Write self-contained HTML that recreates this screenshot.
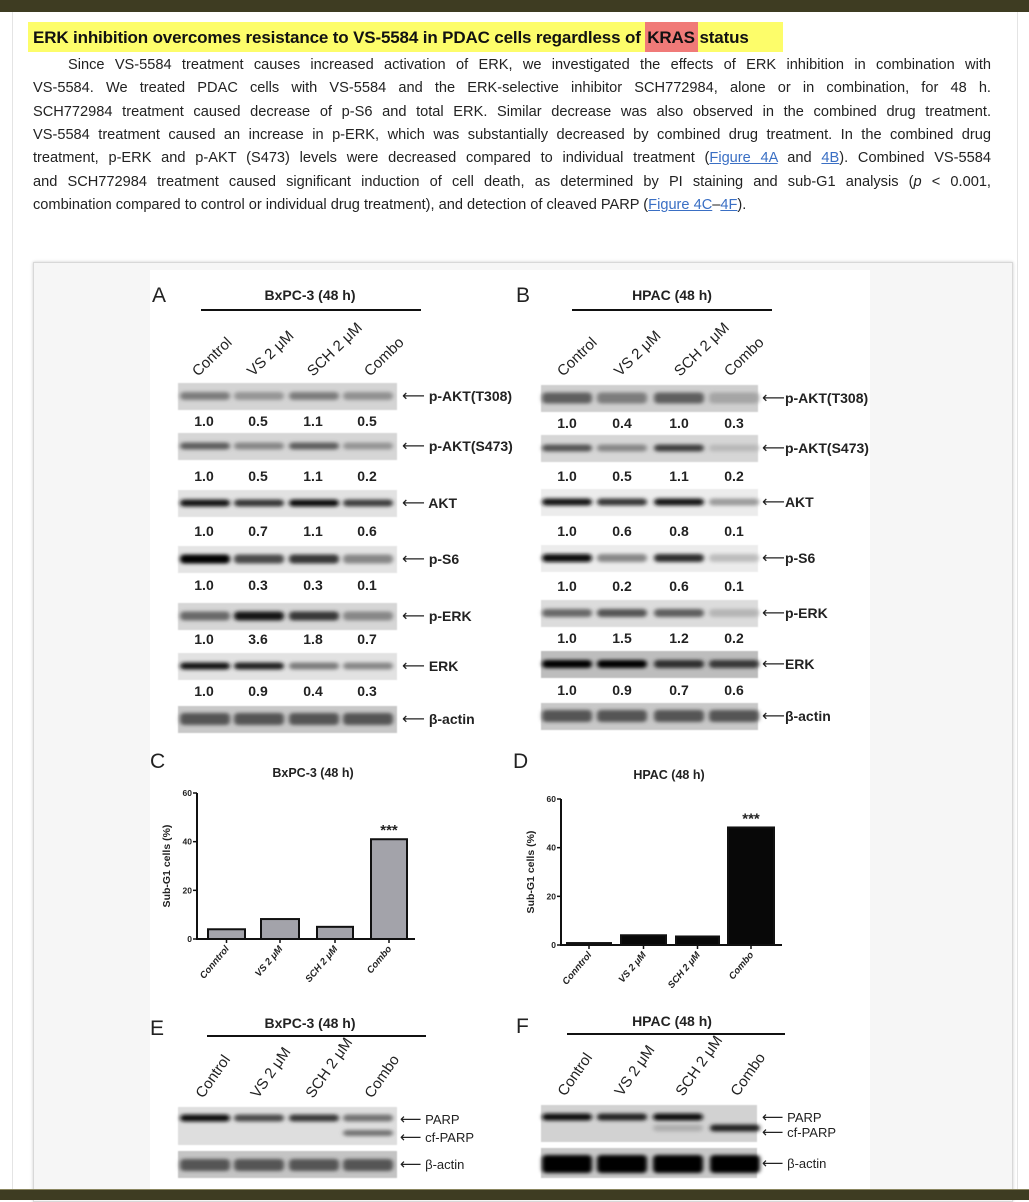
<!DOCTYPE html>
<html><head><meta charset="utf-8">
<style>
*{margin:0;padding:0;box-sizing:border-box}
body{width:1029px;height:1200px;background:#fff;position:relative;overflow:hidden;font-family:"Liberation Sans",Arial,sans-serif;color:#222}
#topbar{position:absolute;left:0;top:0;width:1029px;height:12px;background:#3e3c22}
#botbar{position:absolute;left:0;top:1189px;width:1029px;height:11px;background:#3e3c22;border-top:1px solid #8a8660}
#edgeL{position:absolute;left:12px;top:12px;width:1px;height:1177px;background:#e4e4e4}
#edgeR{position:absolute;left:1017px;top:12px;width:1px;height:1177px;background:#e4e4e4}
#head{position:absolute;left:28px;top:22px;width:755px;height:30px;background:#fdfd6a}
#kras{position:absolute;left:645px;top:22px;width:53px;height:30px;background:#f07a78}
#htext{position:absolute;left:33px;top:28px;font-size:17px;font-weight:bold;color:#111;white-space:nowrap;letter-spacing:-0.15px}
.ln{position:absolute;left:33px;width:958px;font-size:14.6px;text-align:justify;text-align-last:justify;white-space:nowrap;color:#222}
.ln.last{text-align-last:left}
a{color:#3a6fc4;text-decoration:underline}
#fig{position:absolute;left:33px;top:262px;width:980px;height:940px;background:#f6f6f6;border:1px solid #d8d8d8;box-shadow:0 0 3px #ccc}
#figw{position:absolute;left:150px;top:270px;width:720px;height:920px;background:#fff}
svg{position:absolute;left:0;top:0}
</style></head><body>
<div id="topbar"></div>
<div id="edgeL"></div><div id="edgeR"></div>
<div id="head"></div><div id="kras"></div>
<div id="htext">ERK inhibition overcomes resistance to VS-5584 in PDAC cells regardless of <span style="margin-left:2px">KRAS</span> status</div>
<div class="ln" style="top:57px;padding-left:35px">Since VS-5584 treatment causes increased activation of ERK, we investigated the effects of ERK inhibition in combination with</div>
<div class="ln" style="top:80px">VS-5584. We treated PDAC cells with VS-5584 and the ERK-selective inhibitor SCH772984, alone or in combination, for 48 h.</div>
<div class="ln" style="top:104px">SCH772984 treatment caused decrease of p-S6 and total ERK. Similar decrease was also observed in the combined drug treatment.</div>
<div class="ln" style="top:127px">VS-5584 treatment caused an increase in p-ERK, which was substantially decreased by combined drug treatment. In the combined drug</div>
<div class="ln" style="top:150px">treatment, p-ERK and p-AKT (S473) levels were decreased compared to individual treatment (<a>Figure 4A</a> and <a>4B</a>). Combined VS-5584</div>
<div class="ln" style="top:174px">and SCH772984 treatment caused significant induction of cell death, as determined by PI staining and sub-G1 analysis (<i>p</i> &lt; 0.001,</div>
<div class="ln last" style="top:197px">combination compared to control or individual drug treatment), and detection of cleaved PARP (<a>Figure 4C</a>–<a>4F</a>).</div>
<div id="fig"></div>
<div id="figw"></div>
<svg id="s" width="1029" height="1200" xmlns="http://www.w3.org/2000/svg" font-family="Liberation Sans, Arial, sans-serif">
<defs>
<filter id="bl" x="-30%" y="-200%" width="160%" height="500%"><feGaussianBlur stdDeviation="2.2 1.8"/></filter>
<filter id="bl2"><feGaussianBlur stdDeviation="0.6"/></filter>
</defs>
<g id="g"></g>
</svg>
<div id="botbar"></div>
<script>
var g=document.getElementById('g');var out='';
function T(x,y,s,sz,w,anc,extra){out+='<text x="'+x+'" y="'+y+'" font-size="'+sz+'" font-weight="'+(w||'normal')+'" fill="#222" text-anchor="'+(anc||'start')+'" '+(extra||'')+'>'+s+'</text>';}
function AR(x,y,s,sz,w){out+='<text x="'+x+'" y="'+y+'" font-size="'+sz+'" font-weight="'+w+'" fill="#222"><tspan font-family="DejaVu Sans" font-size="'+(sz+2)+'" font-weight="normal">⟵</tspan>'+s+'</text>';}
function blot(x0,x1,y0,h,bg,lanes,ints,by,bh){
 if(bg!='none')out+='<rect x="'+x0+'" y="'+y0+'" width="'+(x1-x0)+'" height="'+h+'" fill="'+bg+'" filter="url(#bl2)"/>';
 for(var i=0;i<4;i++){var v=ints[i];if(v<=0)continue;var c=Math.round(205-200*v);
  out+='<rect x="'+(lanes[i]-25)+'" y="'+(y0+by-bh/2)+'" width="50" height="'+bh+'" rx="4" fill="rgb('+c+','+c+','+c+')" filter="url(#bl)"/>';}
}
var LA=[205,259,314,368],LB=[567,622,679,734];
T(152,302,'A',21);T(516,302,'B',21);
T(310,300,'BxPC-3 (48 h)',14,'bold','middle');T(672,300,'HPAC (48 h)',14,'bold','middle');
out+='<line x1="201" y1="310" x2="421" y2="310" stroke="#111" stroke-width="2"/>';
out+='<line x1="572" y1="310" x2="772" y2="310" stroke="#111" stroke-width="2"/>';
var names=['Control','VS 2 μM','SCH 2 μM','Combo'];
var sa=[198,253,313,370],sb=[563,620,680,730];
for(var i=0;i<4;i++){T(sa[i],377,names[i],15,'normal','start','transform="rotate(-44 '+sa[i]+' 377)"');T(sb[i],377,names[i],15,'normal','start','transform="rotate(-44 '+sb[i]+' 377)"');}
var A=[[383,'p-AKT(T308)',[.4,.28,.4,.3],['1.0','0.5','1.1','0.5'],421,'#d4d4d4',8],
[433,'p-AKT(S473)',[.55,.35,.55,.28],['1.0','0.5','1.1','0.2'],476,'#d6d6d6',7],
[490,'AKT',[.9,.75,.95,.7],['1.0','0.7','1.1','0.6'],531,'#e2e2e2',7],
[546,'p-S6',[1.05,.65,.75,.35],['1.0','0.3','0.3','0.1'],585,'#e4e4e4',9],
[603,'p-ERK',[.5,.9,.75,.35],['1.0','3.6','1.8','0.7'],639,'#d6d6d6',9],
[653,'ERK',[.9,.85,.4,.35],['1.0','0.9','0.4','0.3'],691,'#e2e2e2',7],
[706,'β-actin',[.6,.6,.6,.6],[],0,'#c8c8c8',12]];
A.forEach(function(r){blot(178,397,r[0],27,r[5],LA,r[2],13,r[6]);
 AR(402,r[0]+18,' '+r[1],14,'bold');
 r[3].forEach(function(n,i){T(LA[i]-1,r[4]+5,n,14,'bold','middle');});});
var B=[[385,'p-AKT(T308)',[.55,.4,.55,.2],['1.0','0.4','1.0','0.3'],423,'#cfcfcf',11],
[435,'p-AKT(S473)',[.6,.35,.7,.1],['1.0','0.5','1.1','0.2'],476,'#d6d6d6',7],
[489,'AKT',[.9,.75,.9,.25],['1.0','0.6','0.8','0.1'],531,'#ececec',7],
[545,'p-S6',[.95,.35,.8,.08],['1.0','0.2','0.6','0.1'],586,'#ececec',8],
[600,'p-ERK',[.5,.6,.55,.12],['1.0','1.5','1.2','0.2'],638,'#dcdcdc',8],
[651,'ERK',[1.05,1,.8,.75],['1.0','0.9','0.7','0.6'],690,'#bdbdbd',8],
[703,'β-actin',[.6,.6,.6,.6],[],0,'#c8c8c8',12]];
B.forEach(function(r){blot(541,758,r[0],27,r[5],LB,r[2],13,r[6]);
 AR(762,r[0]+18,r[1],14,'bold');
 r[3].forEach(function(n,i){T(LB[i],r[4]+5,n,14,'bold','middle');});});
function chart(ax,y60,y0,bars,col,cx,ty,title,lab){
 T(lab[0],lab[1],lab[2],21);
 T(cx,ty,title,12.5,'bold','middle');
 var sc=(y0-y60)/60;
 out+='<line x1="'+ax+'" y1="'+y60+'" x2="'+ax+'" y2="'+(y0+1)+'" stroke="#111" stroke-width="2"/>';
 out+='<line x1="'+ax+'" y1="'+y0+'" x2="'+(bars[3][1]+8)+'" y2="'+y0+'" stroke="#111" stroke-width="2"/>';
 [0,20,40,60].forEach(function(v){var y=y0-v*sc;out+='<line x1="'+(ax-4)+'" y1="'+y+'" x2="'+ax+'" y2="'+y+'" stroke="#111" stroke-width="1.5"/>';T(ax-5,y+3,v,8.5,'bold','end');});
 T(ax-27,(y0+y60)/2,'Sub-G1 cells (%)',10.5,'bold','middle','transform="rotate(-90 '+(ax-27)+' '+((y0+y60)/2)+')"');
 var xl=['Conntrol','VS 2 μM','SCH 2 μM','Combo'];
 bars.forEach(function(b,i){var y=y0-b[2]*sc;
  out+='<rect x="'+b[0]+'" y="'+y+'" width="'+(b[1]-b[0])+'" height="'+(y0-y)+'" fill="'+col+'" stroke="#111" stroke-width="2"/>';
  var m=(b[0]+b[1])/2;out+='<line x1="'+m+'" y1="'+y0+'" x2="'+m+'" y2="'+(y0+4)+'" stroke="#111" stroke-width="1.5"/>';
  T(m+3,y0+10,xl[i],9.5,'bold','end','font-style="italic" transform="rotate(-50 '+(m+3)+' '+(y0+10)+')"');});
 var b=bars[3];T((b[0]+b[1])/2,y0-b[2]*sc-4,'***',15,'bold','middle');
}
chart(197,793,939,[[208,245,4],[261,299,8.2],[317,353,5],[371,407,41]],'#a3a3aa',313,777,'BxPC-3 (48 h)',[150,768,'C']);
chart(561,799,945,[[567,611,0.8],[621,666,4],[676,719,3.5],[728,774,48.3]],'#080808',669,779,'HPAC (48 h)',[513,768,'D']);
T(150,1035,'E',21);T(516,1033,'F',21);
T(310,1028,'BxPC-3 (48 h)',14,'bold','middle');T(672,1026,'HPAC (48 h)',14,'bold','middle');
out+='<line x1="207" y1="1036" x2="426" y2="1036" stroke="#111" stroke-width="2"/>';
out+='<line x1="567" y1="1034" x2="785" y2="1034" stroke="#111" stroke-width="2"/>';
var ea=[203,258,313,372],fa=[565,622,683,738];
for(var i=0;i<4;i++){T(ea[i],1099,names[i],15,'normal','start','transform="rotate(-55 '+ea[i]+' 1099)"');T(fa[i],1097,names[i],15,'normal','start','transform="rotate(-55 '+fa[i]+' 1097)"');}
blot(178,397,1107,38,'#dedede',LA,[.95,.65,.75,.45],11,7);
blot(178,397,1107,38,'none',LA,[0,0,0,.45],26,6);
blot(178,397,1151,27,'#c4c4c4',LA,[.6,.6,.6,.6],14,12);
AR(400,1124,' PARP',13,'normal');AR(400,1142,' cf-PARP',13,'normal');AR(400,1169,' β-actin',13,'normal');
blot(541,757,1105,37,'#d2d2d2',[567,622,678,735],[.95,.85,.95,0],12,7);
blot(541,757,1105,37,'none',[567,622,678,735],[0,0,.15,.85],23,7);
blot(541,757,1148,30,'#c8c8c8',[567,622,678,735],[1.02,1,1,1.02],16,18);
AR(762,1122,' PARP',13,'normal');AR(762,1137,' cf-PARP',13,'normal');AR(762,1168,' β-actin',13,'normal');
g.innerHTML=out;
</script>
</body></html>
